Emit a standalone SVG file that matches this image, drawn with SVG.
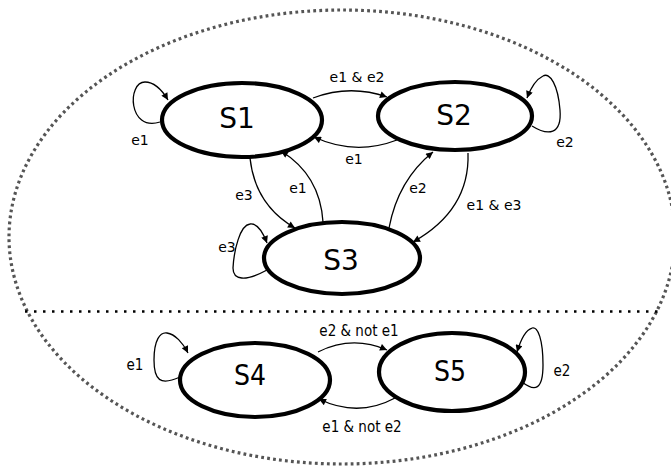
<svg xmlns="http://www.w3.org/2000/svg" width="671" height="467" viewBox="0 0 671 467">
<defs>
<marker id="arr" viewBox="0 0 10 10" refX="10" refY="5" markerWidth="9" markerHeight="7" markerUnits="userSpaceOnUse" orient="auto">
<path d="M0,0 L10,5 L0,10 z" fill="#000"/>
</marker>
<style>
.node{fill:#fff;stroke:#000;stroke-width:4.2}
.nl{font-family:"DejaVu Sans",sans-serif;font-size:28px;text-anchor:middle;fill:#000}
.nlc{font-family:"DejaVu Sans Condensed","DejaVu Sans",sans-serif;font-stretch:condensed;font-size:28px;text-anchor:middle;fill:#000}
.edge{fill:none;stroke:#000;stroke-width:1.3;marker-end:url(#arr)}
.el{font-family:"DejaVu Sans",sans-serif;font-size:14px;text-anchor:middle;fill:#000}
.elc{font-family:"DejaVu Sans Condensed","DejaVu Sans",sans-serif;font-stretch:condensed;font-size:15px;text-anchor:middle;fill:#000}
</style>
</defs>
<rect width="671" height="467" fill="#fff"/>
<g id="boundary">
<ellipse cx="342" cy="237" rx="333" ry="227" fill="none" stroke="#555" stroke-width="3.2" stroke-dasharray="2.8 3.2"/>
<line x1="25" y1="311.5" x2="658" y2="311.5" stroke="#000" stroke-width="2.5" stroke-dasharray="2.5 6.5"/>
</g>
<g id="connectors">
<path class="edge" d="M160,122 C128,132 127,82 145,82 C155,82 162,90 168,100"/>
<path class="edge" d="M313,98 Q350,84 387,97"/>
<path class="edge" d="M397,140 Q355,156 314,137"/>
<path class="edge" d="M532,126 C548,136 562,135 560,110 C558,85 550,72 543,76 C535,80 530,90 527,98"/>
<path class="edge" d="M250,158 Q255,205 295,228"/>
<path class="edge" d="M323,222 Q320,175 281,151"/>
<path class="edge" d="M389,228 Q398,180 433,152"/>
<path class="edge" d="M468,153 Q470,210 413,242"/>
<path class="edge" d="M267,270 C245,282 233,280 233,268 C234,250 240,225 250,224 C258,223 264,235 267,243"/>
<path class="edge" d="M180,377 C160,386 154,380 154,360 C154,340 160,332 167,333 C175,334 183,343 188,353"/>
<path class="edge" d="M318,352 Q352,335 387,350"/>
<path class="edge" d="M395,398 Q358,418 319,399"/>
<path class="edge" d="M522,382 C535,392 543,390 543,365 C543,340 538,326 532,328 C525,330 520,342 517,352"/>
<text class="el" x="140" y="145">e1</text>
<text class="el" x="357" y="82">e1 &amp; e2</text>
<text class="el" x="354" y="164">e1</text>
<text class="el" x="565" y="147">e2</text>
<text class="el" x="244" y="200">e3</text>
<text class="el" x="298" y="193">e1</text>
<text class="el" x="418" y="193">e2</text>
<text class="el" x="494" y="210">e1 &amp; e3</text>
<text class="el" x="227" y="252">e3</text>
<text class="elc" x="135" y="370">e1</text>
<text class="elc" x="359" y="336">e2 &amp; not e1</text>
<text class="elc" x="362" y="432">e1 &amp; not e2</text>
<text class="elc" x="562" y="376">e2</text>
</g>
<g id="S1"><ellipse class="node" cx="242" cy="120" rx="80" ry="37"/><text class="nl" x="237" y="128">S1</text></g>
<g id="S2"><ellipse class="node" cx="455" cy="116" rx="77" ry="34"/><text class="nl" x="454" y="125">S2</text></g>
<g id="S3"><ellipse class="node" cx="342" cy="258" rx="78" ry="36"/><text class="nl" x="341" y="270">S3</text></g>
<g id="S4"><ellipse class="node" cx="255" cy="380" rx="75" ry="37"/><text class="nlc" x="250" y="385">S4</text></g>
<g id="S5"><ellipse class="node" cx="452" cy="372" rx="73" ry="39"/><text class="nlc" x="450" y="381">S5</text></g>
</svg>
